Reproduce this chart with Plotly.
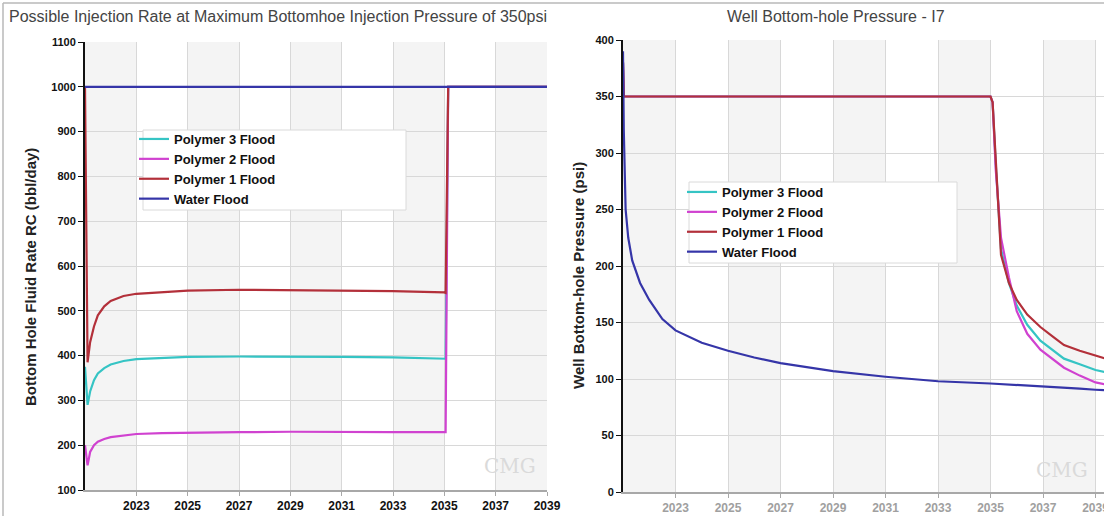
import plotly.graph_objects as go

# ---------------- data ----------------
x_tick_years = [2023, 2025, 2027, 2029, 2031, 2033, 2035, 2037, 2039]
x_tick_labels = ["2023", "2025", "2027", "2029", "2031", "2033", "2035", "2037", "2039"]
band_starts = [2021, 2025, 2029, 2033, 2037]

series_names = ["Polymer 3 Flood", "Polymer 2 Flood", "Polymer 1 Flood", "Water Flood"]
series_colors = ["#35C4C4", "#D042D0", "#B3303A", "#3535A8"]

# Left chart: bottom hole fluid rate (bbl/day)
t_rate = [2021.0, 2021.1, 2021.2, 2021.35, 2021.5, 2021.75, 2022.0, 2022.5, 2023.0,
          2024.0, 2025.0, 2027.0, 2029.0, 2031.0, 2033.0, 2035.0, 2035.05, 2035.15, 2039.0]
rate_poly3 = [375, 290, 320, 345, 360, 372, 380, 388, 392,
              395, 397, 398, 398, 397, 396, 394, 393, 1000, 1000]
rate_poly2 = [200, 155, 185, 200, 208, 214, 218, 222, 225,
              227, 228, 229, 230, 229, 229, 229, 229, 1000, 1000]
rate_poly1 = [1000, 385, 430, 465, 490, 510, 522, 533, 538,
              542, 545, 547, 546, 545, 544, 541, 540, 1000, 1000]
rate_water = [1000, 1000, 1000, 1000, 1000, 1000, 1000, 1000, 1000,
              1000, 1000, 1000, 1000, 1000, 1000, 1000, 1000, 1000, 1000]

# Right chart: well bottom-hole pressure (psi)
t_pres = [2021.0, 2021.03, 2021.1, 2021.2, 2021.35, 2021.65, 2022.0, 2022.5, 2023.0,
          2024.0, 2025.0, 2026.0, 2027.0, 2029.0, 2031.0, 2033.0, 2035.0,
          2035.08, 2035.2, 2035.4, 2035.7, 2036.0, 2036.4, 2036.9, 2037.4, 2037.8,
          2038.4, 2039.0, 2039.4]
pres_poly3 = [380, 350, 350, 350, 350, 350, 350, 350, 350,
              350, 350, 350, 350, 350, 350, 350, 350,
              345, 290, 215, 185, 165, 148, 134, 125, 118,
              113, 108, 106]
pres_poly2 = [380, 350, 350, 350, 350, 350, 350, 350, 350,
              350, 350, 350, 350, 350, 350, 350, 350,
              345, 285, 225, 190, 160, 140, 126, 117, 110,
              103, 97, 95]
pres_poly1 = [380, 350, 350, 350, 350, 350, 350, 350, 350,
              350, 350, 350, 350, 350, 350, 350, 350,
              345, 290, 210, 185, 170, 157, 146, 137, 130,
              125, 121, 118]
pres_water = [390, 320, 250, 225, 205, 185, 170, 153, 143,
              132, 125, 119, 114, 107, 102, 98, 96,
              95.9, 95.8, 95.5, 95.2, 95, 94.5, 93.8, 93, 92.5,
              91.5, 90.5, 90]

# ---------------- figure ----------------
W, H = 1104, 516
FONT = "Liberation Sans, Arial, sans-serif"


def px(xp):
    return xp / W


def py(yp):
    return 1 - yp / H


fig = go.Figure()

rate_series = [rate_poly3, rate_poly2, rate_poly1, rate_water]
pres_series = [pres_poly3, pres_poly2, pres_poly1, pres_water]

for name, col, vals in zip(series_names, series_colors, rate_series):
    fig.add_trace(go.Scatter(x=t_rate, y=vals, name=name, mode="lines",
                             line=dict(color=col, width=2.2),
                             xaxis="x", yaxis="y", legend="legend"))
for name, col, vals in zip(series_names, series_colors, pres_series):
    fig.add_trace(go.Scatter(x=t_pres, y=vals, name=name, mode="lines",
                             line=dict(color=col, width=2.2),
                             xaxis="x2", yaxis="y2", legend="legend2"))

# panel geometry (px)
L_x0, L_x1, L_y0, L_y1 = 85, 547, 42, 490
R_x0, R_x1, R_y0, R_y1 = 623, 1104, 40, 492
right_range_end = 2021 + (R_x1 - R_x0) / 26.25

grid_col = "#D8D8D8"
common_x = dict(tickmode="array", tickvals=x_tick_years, ticktext=x_tick_labels,
                showgrid=True, gridcolor=grid_col, gridwidth=1, zeroline=False,
                showline=True, linecolor="#A8A8A8", linewidth=1.5,
                ticks="outside", ticklen=4, tickcolor="#A8A8A8", automargin=False,
                ticklabeloverflow="allow")

fig.update_layout(
    width=W, height=H,
    margin=dict(l=0, r=0, t=0, b=0, pad=0),
    paper_bgcolor="white", plot_bgcolor="white",
    font=dict(family=FONT, color="#111"),
    xaxis=dict(domain=[px(L_x0), px(L_x1)], range=[2021, 2039], anchor="y",
               tickfont=dict(size=12, family=FONT, color="#111", weight="bold"),
               **common_x),
    yaxis=dict(domain=[py(L_y1), py(L_y0)], range=[100, 1100], dtick=100, anchor="x",
               showgrid=True, gridcolor=grid_col, zeroline=False,
               showline=True, linecolor="#111", linewidth=2,
               ticks="outside", ticklen=5, tickcolor="#111", automargin=False,
               tickfont=dict(size=11, family=FONT, color="#111", weight="bold")),
    xaxis2=dict(domain=[px(R_x0), 1.0], range=[2021, right_range_end], anchor="y2",
                tickfont=dict(size=12, family=FONT, color="#A0A0A0", weight="bold"),
                **common_x),
    yaxis2=dict(domain=[py(R_y1), py(R_y0)], range=[0, 400], dtick=50, anchor="x2",
                showgrid=True, gridcolor=grid_col, zeroline=False,
                showline=True, linecolor="#111", linewidth=2,
                ticks="outside", ticklen=5, tickcolor="#111", automargin=False,
                tickfont=dict(size=11, family=FONT, color="#111", weight="bold")),
    legend=dict(x=px(134), y=py(124), xanchor="left", yanchor="top",
                bgcolor="rgba(0,0,0,0)", borderwidth=0, tracegroupgap=0,
                font=dict(size=13, family=FONT, color="#111", weight="bold")),
    legend2=dict(x=px(682), y=py(177), xanchor="left", yanchor="top",
                 bgcolor="rgba(0,0,0,0)", borderwidth=0, tracegroupgap=0,
                 font=dict(size=13, family=FONT, color="#111", weight="bold")),
    showlegend=True,
)

shapes = []
# alternating column bands
for b in band_starts:
    shapes.append(dict(type="rect", xref="x", yref="y domain", x0=b, x1=b + 2, y0=0, y1=1,
                       fillcolor="#F4F4F4", line=dict(width=0), layer="below"))
    shapes.append(dict(type="rect", xref="x2", yref="y2 domain", x0=b, x1=min(b + 2, right_range_end),
                       y0=0, y1=1, fillcolor="#F4F4F4", line=dict(width=0), layer="below"))
# legend boxes
shapes.append(dict(type="rect", xref="paper", yref="paper", x0=px(143), x1=px(406),
                   y0=py(210), y1=py(130), fillcolor="white",
                   line=dict(color="#DADADA", width=1), layer="above"))
shapes.append(dict(type="rect", xref="paper", yref="paper", x0=px(689), x1=px(957),
                   y0=py(263), y1=py(182), fillcolor="white",
                   line=dict(color="#DADADA", width=1), layer="above"))
# outer frame lines
shapes.append(dict(type="line", xref="paper", yref="paper", x0=px(3), x1=1, y0=py(3), y1=py(3),
                   line=dict(color="#B8B8B8", width=1.5)))
shapes.append(dict(type="line", xref="paper", yref="paper", x0=px(3), x1=px(3), y0=0, y1=py(3),
                   line=dict(color="#B8B8B8", width=1.5)))
fig.update_layout(shapes=shapes)

annotations = [
    dict(text="Possible Injection Rate at Maximum Bottomhoe Injection Pressure of 350psi",
         xref="paper", yref="paper", x=px(7), y=py(16), xanchor="left", yanchor="middle",
         showarrow=False, font=dict(size=16, family=FONT, color="#444")),
    dict(text="Well Bottom-hole Pressure - I7",
         xref="paper", yref="paper", x=px(836), y=py(16), xanchor="center", yanchor="middle",
         showarrow=False, font=dict(size=16, family=FONT, color="#444")),
    dict(text="Bottom Hole Fluid Rate RC (bbl/day)", textangle=-90,
         xref="paper", yref="paper", x=px(30), y=py(277), xanchor="center", yanchor="middle",
         showarrow=False, font=dict(size=15, family=FONT, color="#222", weight="bold")),
    dict(text="Well Bottom-hole Pressure (psi)", textangle=-90,
         xref="paper", yref="paper", x=px(578), y=py(276), xanchor="center", yanchor="middle",
         showarrow=False, font=dict(size=15, family=FONT, color="#222", weight="bold")),
    dict(text="CMG", xref="paper", yref="paper", x=px(510), y=py(466),
         xanchor="center", yanchor="middle", showarrow=False,
         font=dict(size=20, family="DejaVu Serif, serif", color="#DADADA")),
    dict(text="CMG", xref="paper", yref="paper", x=px(1062), y=py(470),
         xanchor="center", yanchor="middle", showarrow=False,
         font=dict(size=20, family="DejaVu Serif, serif", color="#DADADA")),
]
fig.update_layout(annotations=annotations)

fig.write_html("out.html")
